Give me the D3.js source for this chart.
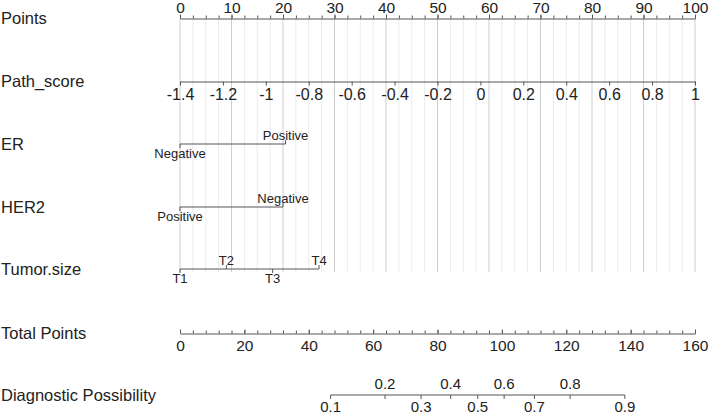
<!DOCTYPE html>
<html>
<head>
<meta charset="utf-8">
<script src="https://cdn.jsdelivr.net/npm/d3@7"></script>
<style>
  body { margin: 0; background: #fff; }
  svg { font-family: "Liberation Sans", Arial, sans-serif; }
</style>
</head>
<body>
<div id="chart"></div>
<script>
// nomogram rows
var rowNames = ['Points', 'Path_score', 'ER', 'HER2', 'Tumor.size', 'Total Points', 'Diagnostic Possibility'];

var pointsTicks = [0, 10, 20, 30, 40, 50, 60, 70, 80, 90, 100];
var pathTicks = [-1.4, -1.2, -1, -0.8, -0.6, -0.4, -0.2, 0, 0.2, 0.4, 0.6, 0.8, 1];
var totalTicks = [0, 20, 40, 60, 80, 100, 120, 140, 160];

// categorical variables: level names and their points
var erLevels = ['Negative', 'Positive'];
var erPoints = [0, 20.5];
var her2Levels = ['Positive', 'Negative'];
var her2Points = [0, 20];
var tumorLevels = ['T1', 'T2', 'T3', 'T4'];
var tumorPoints = [0, 9, 18, 27];

// probability scale, placed on total points
var probLabels = ['0.1', '0.2', '0.3', '0.4', '0.5', '0.6', '0.7', '0.8', '0.9'];
var probTotal = [46.8, 63.7, 74.9, 84.1, 92.5, 100.7, 110.1, 121.2, 138.2];

var width = 709, height = 414;
var x0 = 180, x1 = 695;

var svg = d3.select('#chart')
    .append('svg')
    .attr('width', width)
    .attr('height', height);

var xPts = d3.scaleLinear().domain([0, 100]).range([x0, x1]);
var xPath = d3.scaleLinear().domain([-1.4, 1]).range([x0, x1]);
var xTotal = d3.scaleLinear().domain([0, 160]).range([x0, x1]);

var rowY = [18.5, 81.5, 144, 207, 269, 333.5, 395];
var axisColor = '#555';
var textColor = '#222';

// grid lines behind the top rows
var minorGrid = d3.range(0, 100.1, 2.5);
svg.append('g')
    .selectAll('line')
    .data(minorGrid)
    .enter()
    .append('line')
    .attr('x1', function(d) { return xPts(d); })
    .attr('x2', function(d) { return xPts(d); })
    .attr('y1', rowY[0])
    .attr('y2', 272)
    .attr('stroke', function(d) { return d % 10 === 0 ? '#cfcfcf' : '#ebebeb'; })
    .attr('stroke-width', 1);

// left labels
svg.append('g')
    .selectAll('text')
    .data(rowNames)
    .enter()
    .append('text')
    .attr('x', 1)
    .attr('y', function(d, i) { return rowY[i]; })
    .attr('dy', '0.35em')
    .attr('font-size', 16.5)
    .attr('fill', textColor)
    .text(function(d) { return d; });

function styleAxis(g, fs) {
    g.select('.domain').attr('stroke', axisColor);
    g.selectAll('.tick line').attr('stroke', axisColor);
    g.selectAll('.tick text').attr('fill', textColor).attr('font-size', fs);
    g.attr('font-family', null);
}

// plain hyphen minus, like the reference
function plain(d) { return String(+d.toFixed(1)); }

// Points
var gp = svg.append('g').attr('transform', 'translate(0,' + rowY[0] + ')');
gp.call(d3.axisTop(xPts).tickValues(minorGrid).tickSize(3).tickSizeOuter(0).tickFormat(''));
gp.call(styleAxis, 15);
var gp2 = svg.append('g').attr('transform', 'translate(0,' + rowY[0] + ')');
gp2.call(d3.axisTop(xPts).tickValues(pointsTicks).tickSize(4).tickPadding(2).tickFormat(plain));
gp2.call(styleAxis, 15.5);
gp2.select('.domain').remove();

// Path_score
var gs = svg.append('g').attr('transform', 'translate(0,' + rowY[1] + ')');
gs.call(d3.axisBottom(xPath).tickValues(pathTicks).tickSize(4).tickSizeOuter(0).tickPadding(3)
    .tickFormat(plain));
gs.call(styleAxis, 16);

// categorical rows
function catRow(y, levels, pts, fs) {
    var g = svg.append('g');
    g.append('line')
        .attr('x1', xPts(d3.min(pts)))
        .attr('x2', xPts(d3.max(pts)))
        .attr('y1', y).attr('y2', y)
        .attr('stroke', axisColor);
    var t = g.selectAll('.lev')
        .data(levels)
        .enter()
        .append('g')
        .attr('transform', function(d, i) { return 'translate(' + xPts(pts[i]) + ',' + y + ')'; });
    // first level below, then alternate
    t.append('line')
        .attr('y1', 0)
        .attr('y2', function(d, i) { return i % 2 === 0 ? 4 : -4; })
        .attr('stroke', axisColor);
    t.append('text')
        .attr('text-anchor', 'middle')
        .attr('y', function(d, i) { return i % 2 === 0 ? 14 : -4; })
        .attr('font-size', fs)
        .attr('fill', textColor)
        .text(function(d) { return d; });
}
catRow(rowY[2], erLevels, erPoints, 13);
catRow(rowY[3], her2Levels, her2Points, 13);
catRow(rowY[4], tumorLevels, tumorPoints, 13);

// Total Points
var gt = svg.append('g').attr('transform', 'translate(0,' + rowY[5] + ')');
gt.call(d3.axisBottom(xTotal).tickValues(d3.range(0, 160.1, 4)).tickSizeInner(-3).tickSizeOuter(0).tickFormat(''));
gt.call(styleAxis, 15);
var gt2 = svg.append('g').attr('transform', 'translate(0,' + rowY[5] + ')');
gt2.call(d3.axisBottom(xTotal).tickValues(totalTicks).tickSizeInner(-4).tickPadding(6).tickFormat(plain));
gt2.call(styleAxis, 15.5);
gt2.select('.domain').remove();

// Diagnostic Possibility
var gd = svg.append('g').attr('transform', 'translate(0,' + rowY[6] + ')');
gd.append('line')
    .attr('x1', xTotal(d3.min(probTotal)))
    .attr('x2', xTotal(d3.max(probTotal)))
    .attr('stroke', axisColor);
var dt = gd.selectAll('.pt')
    .data(probLabels)
    .enter()
    .append('g')
    .attr('transform', function(d, i) { return 'translate(' + xTotal(probTotal[i]) + ',0)'; });
dt.append('line')
    .attr('y1', 0)
    .attr('y2', 4)
    .attr('stroke', axisColor);
dt.append('text')
    .attr('text-anchor', 'middle')
    .attr('y', function(d, i) { return i % 2 === 0 ? 17 : -6; })
    .attr('font-size', 15)
    .attr('fill', textColor)
    .text(function(d) { return d; });
</script>
</body>
</html>
